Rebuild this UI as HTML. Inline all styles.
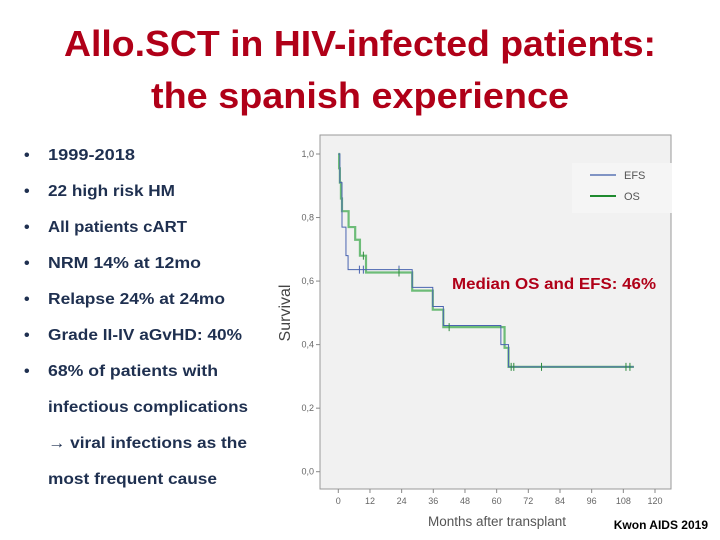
<!DOCTYPE html>
<html><head><meta charset="utf-8"><style>
html,body{margin:0;padding:0;background:#fff;width:720px;height:540px;overflow:hidden}
svg{display:block}
.t{font-family:"Liberation Sans",sans-serif;font-weight:bold;fill:#b00018;font-size:36px}
.b{font-family:"Liberation Sans",sans-serif;font-weight:bold;fill:#1f3050;font-size:16px}
.tk{font-family:"Liberation Sans",sans-serif;font-size:9px;fill:#666}
</style></head><body>
<svg id="s" width="720" height="540" xmlns="http://www.w3.org/2000/svg">
<text class="t" x="360" y="56" text-anchor="middle" textLength="592" lengthAdjust="spacingAndGlyphs">Allo.SCT in HIV-infected patients:</text>
<text class="t" x="360" y="108" text-anchor="middle" textLength="418" lengthAdjust="spacingAndGlyphs">the spanish experience</text>
<g>
<text class="b" x="24" y="160">•</text><text class="b" x="48" y="160" textLength="87" lengthAdjust="spacingAndGlyphs">1999-2018</text>
<text class="b" x="24" y="196">•</text><text class="b" x="48" y="196" textLength="127" lengthAdjust="spacingAndGlyphs">22 high risk HM</text>
<text class="b" x="24" y="232">•</text><text class="b" x="48" y="232" textLength="139" lengthAdjust="spacingAndGlyphs">All patients cART</text>
<text class="b" x="24" y="268">•</text><text class="b" x="48" y="268" textLength="153" lengthAdjust="spacingAndGlyphs">NRM 14% at 12mo</text>
<text class="b" x="24" y="304">•</text><text class="b" x="48" y="304" textLength="177" lengthAdjust="spacingAndGlyphs">Relapse 24% at 24mo</text>
<text class="b" x="24" y="340">•</text><text class="b" x="48" y="340" textLength="194" lengthAdjust="spacingAndGlyphs">Grade II-IV aGvHD: 40%</text>
<text class="b" x="24" y="376">•</text><text class="b" x="48" y="376" textLength="170" lengthAdjust="spacingAndGlyphs">68% of patients with</text>
<text class="b" x="48" y="412" textLength="200" lengthAdjust="spacingAndGlyphs">infectious complications</text>
<text class="b" x="48" y="448" textLength="199" lengthAdjust="spacingAndGlyphs">→ viral infections as the</text>
<text class="b" x="48" y="484" textLength="169" lengthAdjust="spacingAndGlyphs">most frequent cause</text>
</g>
<rect x="320" y="135" width="351" height="354" fill="#f1f1f1" stroke="#999" stroke-width="1"/>
<g id="axes"></g>
<g id="marks"></g>
<g>
<rect x="572" y="163" width="100" height="50" fill="#f5f5f5"/>
<line x1="590" y1="175" x2="616" y2="175" stroke="#3a5aa8" stroke-width="1.2"/>
<text class="tk" x="624" y="179" style="font-size:11px;fill:#555">EFS</text>
<line x1="590" y1="196" x2="616" y2="196" stroke="#1e8a2e" stroke-width="2"/>
<text class="tk" x="624" y="200" style="font-size:11px;fill:#555">OS</text>
</g>
<text x="554" y="289" text-anchor="middle" font-family="Liberation Sans,sans-serif" font-weight="bold" font-size="15.5" fill="#b00018" textLength="204" lengthAdjust="spacingAndGlyphs">Median OS and EFS: 46%</text>
<text transform="translate(290,313) rotate(-90)" text-anchor="middle" font-family="Liberation Sans,sans-serif" font-size="16" fill="#444">Survival</text>
<text x="497" y="526" text-anchor="middle" font-family="Liberation Sans,sans-serif" font-size="13.5" fill="#555">Months after transplant</text>
<text x="708" y="529" text-anchor="end" font-family="Liberation Sans,sans-serif" font-weight="bold" font-size="12" fill="#000">Kwon AIDS 2019</text>
</svg>
<script>
const xTicks=[0,12,24,36,48,60,72,84,96,108,120];
const yTicks=[0,0.2,0.4,0.6,0.8,1.0];
const efsTimes=[0,0.6,1.4,2.9,3.7,28,35.8,39.8,61.6,64.5,112];
const efsSurv=[1.0,0.91,0.77,0.68,0.636,0.58,0.52,0.46,0.40,0.33,0.33];
const efsCensor=[8,9.5,23];
const efsCensorSurv=[0.636,0.636,0.636];
const osTimes=[0,0.3,0.6,1.0,1.4,3.9,6.4,8.2,10.5,28,35.8,39.8,63,64.5,112];
const osSurv=[1.0,0.955,0.91,0.86,0.82,0.77,0.73,0.68,0.627,0.57,0.51,0.455,0.39,0.33,0.33];
const osCensor=[9.5,23,42,65.5,66.5,77,109,110.5];
const osCensorSurv=[0.68,0.627,0.455,0.33,0.33,0.33,0.33,0.33];
const X=m=>338.3+m*(655-338.3)/120;
const Y=v=>471.7-v*(471.7-154);
const NS="http://www.w3.org/2000/svg";
const ax=document.getElementById('axes'),mk=document.getElementById('marks');
function mkEl(t,a,p){const e=document.createElementNS(NS,t);for(const k in a)e.setAttribute(k,a[k]);p.appendChild(e);return e;}
xTicks.forEach(t=>{
 const l=mkEl('line',{x1:X(t),x2:X(t),y1:489,y2:493,stroke:'#888'},ax);
 
 
 const tx=mkEl('text',{x:X(t),y:504,'text-anchor':'middle',class:'tk'},ax);tx.textContent=t;
 
 
});
yTicks.forEach(t=>{
 const l=mkEl('line',{x1:316,x2:320,y1:Y(t),y2:Y(t),stroke:'#888'},ax);
 
 
 const tx=mkEl('text',{x:314,y:Y(t)+3,'text-anchor':'end',class:'tk'},ax);tx.textContent=t.toFixed(1).replace('.',',');
 
 
});
function step(ts,ss){let d='M'+X(ts[0])+' '+Y(ss[0]);for(let i=1;i<ts.length;i++){d+=' H'+X(ts[i])+' V'+Y(ss[i]);}return d;}
const os=mkEl('path',{d:step(osTimes,osSurv),fill:'none',stroke:'#4caf5a',opacity:0.8,'stroke-width':2.2},mk);


const ef=mkEl('path',{d:step(efsTimes,efsSurv),fill:'none',stroke:'#4a64b0','stroke-width':1},mk);


function cens(ts,ss,c,n){ts.forEach((t,i)=>{const l=mkEl('line',{x1:X(t),x2:X(t),y1:Y(ss[i])-4,y2:Y(ss[i])+4,stroke:c,'stroke-width':1},mk);
 
 });}
cens(efsCensor,efsCensorSurv,'#4a64b0','efs-censor');
cens(osCensor,osCensorSurv,'#2e8b3e','os-censor');
</script>
</body></html>
